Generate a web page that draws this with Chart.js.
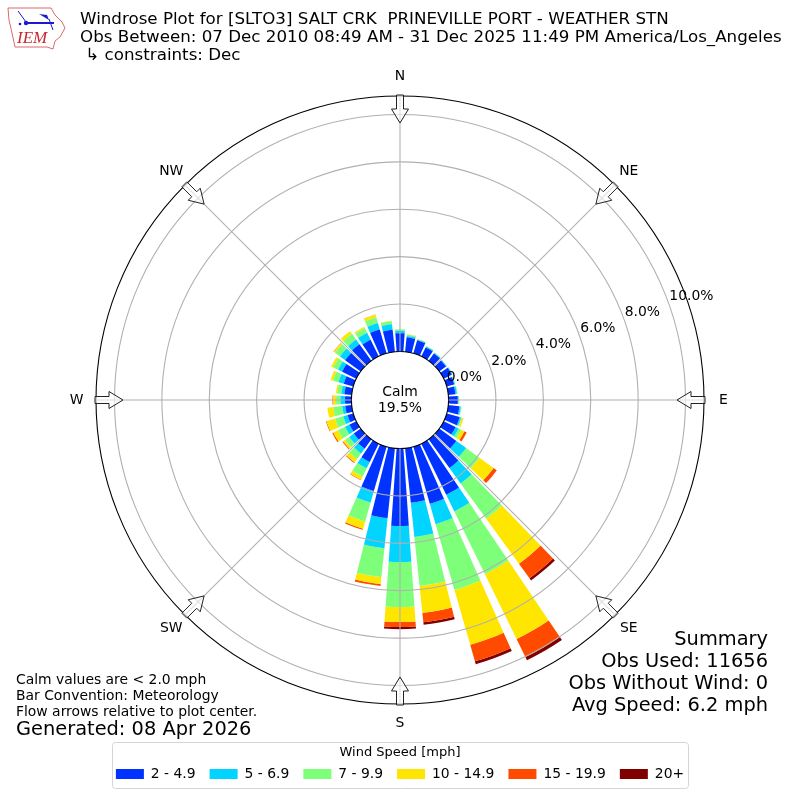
<!DOCTYPE html>
<html><head><meta charset="utf-8">
<style>html,body{margin:0;padding:0;background:#fff}canvas{display:block}</style>
<script src="https://cdn.jsdelivr.net/npm/chart.js@4"></script>
</head><body><canvas id="c" width="800" height="800"></canvas>
<script>
const directions = [0,10,20,30,40,50,60,70,80,90,100,110,120,130,140,150,160,170,180,190,200,210,220,230,240,250,260,270,280,290,300,310,320,330,340,350];
const speed2to5 = [.77,.61,.57,.42,.38,.35,.38,.33,.30,.39,.47,.57,.56,.89,1.5,2.4,2.51,2.31,3.27,2.96,1.95,.86,.49,.36,.32,.25,.27,.27,.31,.42,.67,.81,.86,.78,1.05,.93];
const speed5to7 = [.10,.06,.03,.04,.03,.03,.03,.03,.06,.03,.06,.06,.14,.51,.80,.78,.89,1.45,1.52,1.28,.50,.30,.25,.24,.21,.19,.13,.19,.13,.23,.19,.27,.24,.33,.28,.23];
const speed7to10 = [.06,.06,.03,.03,.02,.02,.02,.02,.03,.02,.03,.03,.12,.69,1.84,2.94,2.89,2.08,1.90,1.22,.83,.38,.29,.21,.33,.36,.38,.19,.17,.24,.22,.25,.30,.22,.25,.13];
const speed10to15 = [.01,.01,0,0,0,0,0,0,0,.01,0,.08,.15,.74,2.35,3.05,2.41,1.14,.63,.30,.32,.15,.17,.10,.22,.37,.25,.12,.06,.10,.10,.07,.14,.06,.11,.02];
const speed15to20 = [0,0,0,0,0,0,0,0,0,0,0,0,.11,.17,.76,.85,.72,.40,.21,.08,.05,.03,.04,.04,.05,.03,0,.03,0,0,0,.02,0,0,.01,0];
const speed20plus = [0,0,0,0,0,0,0,0,0,0,0,0,0,0,.11,.15,.13,.11,.09,0,0,0,0,0,0,0,0,0,0,0,0,0,0,0,0,0];
const seriesNames = ['2 - 4.9','5 - 6.9','7 - 9.9','10 - 14.9','15 - 19.9','20+'];
const seriesColors = ['#0033ff','#00d4ff','#7dff7a','#ffe600','#ff4a00','#800000'];
const seriesValues = [speed2to5,speed5to7,speed7to10,speed10to15,speed15to20,speed20plus];
const radialTicks = [0,2,4,6,8,10];
const compass = [['N',0],['NE',45],['E',90],['SE',135],['S',180],['SW',225],['W',270],['NW',315]];
const titleLines = ['Windrose Plot for [SLTO3] SALT CRK  PRINEVILLE PORT - WEATHER STN','Obs Between: 07 Dec 2010 08:49 AM - 31 Dec 2025 11:49 PM America/Los_Angeles',' \u21b3 constraints: Dec'];
const summaryLines = ['Summary','Obs Used: 11656','Obs Without Wind: 0','Avg Speed: 6.2 mph'];
const noteLines = ['Calm values are < 2.0 mph','Bar Convention: Meteorology','Flow arrows relative to plot center.'];
const calmLines = ['Calm','19.5%'];
const FONT = '"DejaVu Sans"';
const RAD = Math.PI/180;

const rosePlugin = {
  id:'rose',
  afterDatasetsUpdate(chart){
    const s = chart.scales.r;
    const cum = directions.map(()=>0);
    chart.data.datasets.forEach((ds,i)=>{
      chart.getDatasetMeta(i).data.forEach((arc,k)=>{
        const lo = cum[k]; cum[k] += ds.data[k];
        const a = (directions[k]-4)*RAD - Math.PI/2;
        arc.startAngle = a; arc.endAngle = a + 8*RAD; arc.circumference = 8*RAD;
        arc.innerRadius = s.getDistanceFromCenterForValue(lo);
        arc.outerRadius = s.getDistanceFromCenterForValue(cum[k]);
      });
    });
  },
  afterDraw(chart){
    const s = chart.scales.r, ctx = chart.ctx;
    const r0 = s.getDistanceFromCenterForValue(0), R = s.drawingArea;
    const P = (deg,r)=>[s.xCenter+r*Math.sin(deg*RAD), s.yCenter-r*Math.cos(deg*RAD)];
    ctx.save();
    // spokes
    ctx.strokeStyle='#b0b0b0'; ctx.lineWidth=1.1;
    compass.forEach(([,d])=>{
      ctx.beginPath(); ctx.moveTo(...P(d,r0)); ctx.lineTo(...P(d,R)); ctx.stroke();
    });
    // arrows
    compass.forEach(([,d])=>{
      const w=3.5,W=8.5,rT=305,rB=291,rP=277;
      const pt=(r,o)=>{const p=P(d,r);return [p[0]+o*Math.cos(d*RAD),p[1]+o*Math.sin(d*RAD)];};
      ctx.beginPath();
      [[rT,-w],[rB,-w],[rB,-W],[rP,0],[rB,W],[rB,w],[rT,w]].forEach((q,i)=>{const p=pt(q[0],q[1]); i?ctx.lineTo(...p):ctx.moveTo(...p);});
      ctx.closePath();
      ctx.fillStyle='rgba(255,255,255,0.6)'; ctx.fill();
      ctx.strokeStyle='#222'; ctx.lineWidth=1; ctx.stroke();
    });
    ctx.fillStyle='#000';
    // compass labels
    ctx.font='13.9px '+FONT; ctx.textAlign='center'; ctx.textBaseline='middle';
    compass.forEach(([t,d])=>{
      const p = P(d,323.5); ctx.fillText(t,p[0],p[1]);
    });
    // radial tick labels
    ctx.textAlign='left'; ctx.textBaseline='alphabetic';
    radialTicks.forEach(v=>{
      const p=P(70,s.getDistanceFromCenterForValue(v));
      ctx.fillText(v.toFixed(1)+'%',p[0]+1,p[1]-2.5);
    });
    // calm
    ctx.textAlign='center'; ctx.textBaseline='middle';
    ctx.fillText(calmLines[0],400,392); ctx.fillText(calmLines[1],400,408);
    // title
    ctx.textAlign='left'; ctx.font='16.7px '+FONT; ctx.textBaseline='middle';
    titleLines.forEach((t,i)=>ctx.fillText(t,80,20+i*18));
    // summary
    ctx.textAlign='right'; ctx.font='19.4px '+FONT;
    summaryLines.forEach((t,i)=>ctx.fillText(t,768,640+i*22));
    // notes
    ctx.textAlign='left'; ctx.font='13.9px '+FONT;
    noteLines.forEach((t,i)=>ctx.fillText(t,16,680+i*16));
    ctx.font='19.4px '+FONT; ctx.fillText('Generated: 08 Apr 2026',16,730);
    // legend frame
    ctx.strokeStyle='#d5d5d5'; ctx.lineWidth=1;
    ctx.beginPath(); ctx.roundRect(112.5,742.5,576,46,3); ctx.stroke();
    // logo
    ctx.strokeStyle='#d96a6a'; ctx.lineWidth=1; ctx.lineJoin='round';
    const outline=[[8,8],[51,8],[55,15],[62,22],[65,28],[60,37],[55,41],[53,49],[47,47],[15,47],[12,33],[9,20]];
    ctx.beginPath(); outline.forEach((p,i)=>i?ctx.lineTo(...p):ctx.moveTo(...p)); ctx.closePath(); ctx.stroke();
    ctx.strokeStyle='#1a1ad0'; ctx.fillStyle='#1a1ad0'; ctx.lineWidth=2;
    ctx.beginPath(); ctx.moveTo(26,23); ctx.lineTo(54,23); ctx.stroke();
    ctx.lineWidth=1;
    ctx.beginPath(); ctx.moveTo(18,11); ctx.lineTo(26,22); ctx.moveTo(49,19); ctx.lineTo(53,30); ctx.stroke();
    ctx.beginPath(); ctx.moveTo(39,14); ctx.lineTo(47,15); ctx.lineTo(49,20); ctx.closePath(); ctx.fill();
    ctx.beginPath(); ctx.arc(26,23,2.2,0,7); ctx.fill();
    ctx.beginPath(); ctx.arc(20,24,1.3,0,7); ctx.fill();
    ctx.font='italic 17px "Liberation Serif"'; ctx.fillStyle='#c8282d'; ctx.textAlign='left'; ctx.textBaseline='alphabetic';
    ctx.fillText('IEM',17,43);
    ctx.restore();
  }
};

new Chart(document.getElementById('c'),{
  type:'polarArea',
  plugins:[rosePlugin],
  data:{
    labels:directions.map(String),
    datasets:seriesNames.map((n,i)=>({label:n,data:seriesValues[i],backgroundColor:seriesColors[i],borderWidth:0}))
  },
  options:{
    responsive:false,animation:false,
    layout:{padding:{top:96,bottom:9}},
    scales:{r:{
      min:-2.05,max:10.78,
      ticks:{display:false,stepSize:2},
      angleLines:{display:false},
      pointLabels:{display:false},
      grid:{circular:true,z:1,lineWidth:1.1,color:c=>{
        const v=c.tick.value;
        if(v<0) return 'rgba(0,0,0,0)';
        if(v===0||v>10) return '#000';
        return '#b0b0b0';
      }}
    }},
    plugins:{
      tooltip:{enabled:false},
      legend:{
        position:'bottom',
        title:{display:true,text:'Wind Speed [mph]',color:'#000',font:{family:FONT,size:13},padding:{top:41,bottom:-9}},
        labels:{boxWidth:28,boxHeight:10,color:'#000',font:{family:FONT,size:13.9},padding:14,
          generateLabels:ch=>ch.data.datasets.map((d,i)=>({text:d.label,fillStyle:d.backgroundColor,strokeStyle:d.backgroundColor,lineWidth:0,hidden:false,datasetIndex:i}))
        }
      }
    }
  }
});
</script></body></html>
